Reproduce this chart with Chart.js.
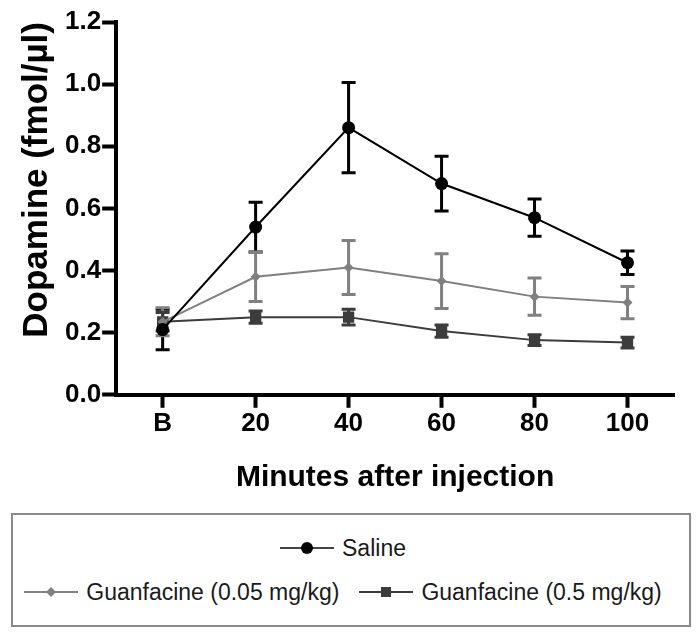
<!DOCTYPE html>
<html>
<head>
<meta charset="utf-8">
<script src="https://cdn.jsdelivr.net/npm/chart.js@4"></script>
<style>
  html, body { margin: 0; padding: 0; background: #fff; }
  body { width: 699px; height: 637px; position: relative; overflow: hidden; font-family: 'Liberation Sans', Arial, sans-serif; }
  #wrap { position: absolute; left: 0; top: 0; width: 699px; height: 505px; }
  #legend {
    position: absolute; left: 11px; top: 513px; width: 680px; height: 114px;
    border: 2px solid #8a8a8a; box-sizing: border-box; padding-right: 16px;
    display: flex; flex-direction: column; justify-content: center; align-items: center;
  }
  .row { display: flex; align-items: center; height: 44px; }
  .item { display: flex; align-items: center; margin: 0 4px; }
  .item svg { margin-right: 8px; }
  .item span { font-size: 23px; color: #1a1a1a; }
</style>
</head>
<body>
<div id="wrap"><canvas id="chart"></canvas></div>
<div id="legend"></div>
<script>
document.addEventListener('DOMContentLoaded', () => {

    // data
    const categories = ['B', '20', '40', '60', '80', '100'];
    const seriesNames = ['Saline', 'Guanfacine (0.05 mg/kg)', 'Guanfacine (0.5 mg/kg)'];
    const saline     = [0.21, 0.54, 0.86, 0.68, 0.57, 0.425];
    const salineErr  = [0.065, 0.08, 0.145, 0.088, 0.06, 0.038];
    const guan005    = [0.235, 0.38, 0.41, 0.366, 0.316, 0.297];
    const guan005Err = [0.045, 0.08, 0.087, 0.088, 0.06, 0.052];
    const guan05     = [0.235, 0.25, 0.25, 0.205, 0.176, 0.168];
    const guan05Err  = [0.03, 0.02, 0.025, 0.02, 0.017, 0.017];
    const yTicks = [0, 0.2, 0.4, 0.6, 0.8, 1.0, 1.2];

    const colors = ['#000000', '#808080', '#3c3c3c'];

    // error bars drawn under the symbols
    const errorBars = {
        id: 'errorBars',
        beforeDatasetsDraw(chart) {
            const ctx = chart.ctx;
            const yScale = chart.scales.y;
            chart.data.datasets.forEach((ds, i) => {
                const meta = chart.getDatasetMeta(i);
                ctx.save();
                ctx.strokeStyle = ds.borderColor;
                ctx.lineWidth = 3;
                meta.data.forEach((pt, j) => {
                    const v = ds.data[j], e = ds.errors[j];
                    const yTop = yScale.getPixelForValue(v + e);
                    const yBot = yScale.getPixelForValue(v - e);
                    const half = 7;
                    ctx.beginPath();
                    ctx.moveTo(pt.x, yTop); ctx.lineTo(pt.x, yBot);
                    ctx.moveTo(pt.x - half, yTop); ctx.lineTo(pt.x + half, yTop);
                    ctx.moveTo(pt.x - half, yBot); ctx.lineTo(pt.x + half, yBot);
                    ctx.stroke();
                });
                ctx.restore();
            });
        }
    };

    const tickFont = { family: "'Liberation Sans', Arial, sans-serif", size: 26, weight: 'bold' };

    new Chart(document.getElementById('chart'), {
        type: 'line',
        data: {
            labels: categories,
            datasets: [
                { label: seriesNames[0], data: saline, errors: salineErr, borderColor: colors[0], backgroundColor: colors[0],
                  borderWidth: 2, pointStyle: 'circle', pointRadius: 6.5, pointBorderWidth: 0 },
                { label: seriesNames[1], data: guan005, errors: guan005Err, borderColor: colors[1], backgroundColor: colors[1],
                  borderWidth: 2, pointStyle: 'rectRot', pointRadius: 5, pointBorderWidth: 0 },
                { label: seriesNames[2], data: guan05, errors: guan05Err, borderColor: colors[2], backgroundColor: colors[2],
                  borderWidth: 2, pointStyle: 'rect', pointRadius: 8, pointBorderWidth: 0 }
            ]
        },
        options: {
            responsive: true,
            maintainAspectRatio: false,
            animation: false,
            layout: { padding: { top: 22, right: 25, left: 12, bottom: 5 } },
            plugins: {
                legend: { display: false },
                tooltip: { enabled: false }
            },
            scales: {
                x: {
                    type: 'category',
                    offset: true,
                    grid: { drawOnChartArea: false, offset: false, tickLength: 13, tickWidth: 4, tickColor: '#000' },
                    border: { color: '#000', width: 4 },
                    ticks: { font: tickFont, color: '#000', padding: 0 },
                    title: { display: true, text: 'Minutes after injection', color: '#000',
                             font: { family: "'Liberation Sans', Arial, sans-serif", size: 30, weight: 'bold' },
                             padding: { top: 21 } }
                },
                y: {
                    min: 0,
                    max: 1.2,
                    afterBuildTicks: axis => { axis.ticks = yTicks.map(v => ({ value: v })); },
                    grid: { drawOnChartArea: false, tickLength: 14, tickWidth: 4, tickColor: '#000' },
                    border: { color: '#000', width: 4 },
                    ticks: { font: tickFont, color: '#000', padding: 1, callback: v => Number(v).toFixed(1) },
                    title: { display: true, text: 'Dopamine (fmol/µl)', color: '#000', align: 'end',
                             font: { family: "'Liberation Sans', Arial, sans-serif", size: 35, weight: 'bold' },
                             padding: { bottom: 6 } }
                }
            }
        },
        plugins: [errorBars]
    });

    // legend box below the chart
    const icons = [
        '<circle cx="27" cy="10" r="6" fill="' + colors[0] + '"/>',
        '<polygon points="27,5 32,10 27,15 22,10" fill="' + colors[1] + '"/>',
        '<rect x="22" y="5" width="10" height="10" fill="' + colors[2] + '"/>'
    ];
    function item(i) {
        return '<div class="item"><svg width="54" height="20"><line x1="0" y1="10" x2="54" y2="10" stroke="' +
            (i === 0 ? '#444' : colors[i]) + '" stroke-width="2"/>' + icons[i] + '</svg><span>' + seriesNames[i] + '</span></div>';
    }
    document.getElementById('legend').innerHTML =
        '<div class="row">' + item(0) + '</div>' +
        '<div class="row">' + item(1) + '<div style="width:12px"></div>' + item(2) + '</div>';
});
</script>
</body>
</html>
